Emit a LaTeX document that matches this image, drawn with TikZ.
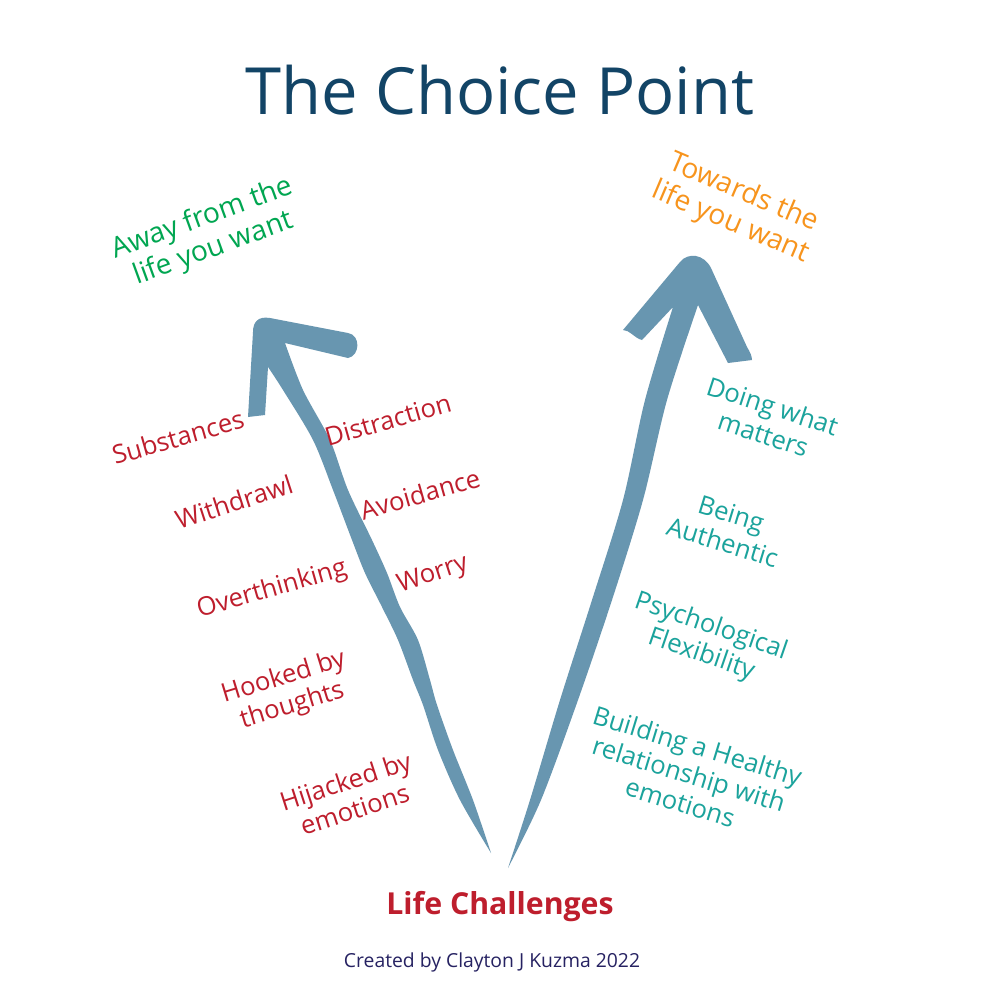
\documentclass[tikz,border=0pt]{standalone}
\usepackage{fontspec}
\setmainfont{Open Sans}
\usetikzlibrary{positioning}

\definecolor{titleblue}{HTML}{124466}
\definecolor{awaygreen}{HTML}{00A651}
\definecolor{towardorange}{HTML}{F7941D}
\definecolor{hookred}{HTML}{BE1E2D}
\definecolor{valueteal}{HTML}{1BA39C}
\definecolor{shaftblue}{HTML}{6896B0}
\definecolor{creditnavy}{HTML}{262262}

\begin{document}
\begin{tikzpicture}[x=0.01cm,y=-0.01cm,font=\fontsize{7.3}{8.4}\selectfont,
  hook/.style={text=hookred,align=center,inner sep=1pt},
  value/.style={text=valueteal,align=center,inner sep=1pt},
  shaft/.style={fill=shaftblue}]
  \fill[white] (0,0) rectangle (1000,1000);
  \useasboundingbox (0,0) rectangle (1000,1000);

  % the two hand drawn arrows
  \fill[shaft] (248,417) -- (265,415) -- (268,367)
    -- plot[smooth] coordinates {(268,367) (283,390) (313,440) (333,490) (352,540) (365,573)
       (382,607) (398,640) (413,680) (423,705) (438,750) (460,800) (491,853)}
    -- plot[smooth] coordinates {(491,853) (473,800) (453,750) (437,705) (430,680) (418,640)
       (400,607) (387,573) (372,540) (348,490) (330,440) (303,390) (285,343)}
    -- (348,358) .. controls (360,356) and (361,335) .. (348,333)
    -- (270,318) .. controls (258,316) and (253,322) .. (253,332) -- cycle;
  \fill[shaft] (508,868)
    -- plot[smooth] coordinates {(508,868) (530,800) (560,700) (592,600) (623,500) (645,400) (673,307)}
    -- (642,340) .. controls (634,338) and (630,330) .. (623,330)
    -- (680,262) .. controls (688,252) and (704,254) .. (711,268)
    -- (747,347) .. controls (750,352) and (752,356) .. (752,360)
    -- (728,363)
    -- (698,305)
    -- plot[smooth] coordinates {(698,305) (667,400) (643,500) (612,600) (578,700) (541,800) (508,868)}
    -- cycle;

  \node[text=titleblue,font=\fontsize{18.5}{22}\selectfont] (title) at (500,90) {The Choice Point};
  \node[text=awaygreen,align=center,rotate=20,font=\fontsize{8}{9.2}\selectfont] (away) at (208,234) {Away from the\\life you want};
  \node[text=towardorange,align=center,rotate=-23,font=\fontsize{8}{9.2}\selectfont] (towards) at (737,208) {Towards the\\life you want};

  % away moves
  \node[hook,rotate=16] (substances) at (178,437) {Substances};
  \node[hook,rotate=16] (distraction) at (388,420) {Distraction};
  \node[hook,rotate=18] (withdrawl) at (234,502) {Withdrawl};
  \node[hook,rotate=16] (avoidance) at (420,494) {Avoidance};
  \node[hook,rotate=16] (overthinking) at (272,590) {Overthinking};
  \node[hook,rotate=18] (worry) at (433,575) {Worry};
  \node[hook,rotate=17] (hooked) at (288,692) {Hooked by\\thoughts};
  \node[hook,rotate=18] (hijacked) at (350,795) {Hijacked by\\emotions};

  % towards moves
  \node[value,rotate=-18] (doing) at (768,420) {Doing what\\matters};
  \node[value,rotate=-17] (being) at (727,528) {Being\\Authentic};
  \node[value,rotate=-19] (flex) at (706,641) {Psychological\\Flexibility};
  \node[value,rotate=-17] (building) at (689,774) {Building a Healthy\\relationship with\\emotions};

  \node[text=hookred,font=\fontsize{8.6}{10}\selectfont\bfseries] (challenges) at (500,907) {Life Challenges};
  \node[text=creditnavy,font=\fontsize{5.5}{7}\selectfont] (credit) at (492,962) {Created by Clayton J Kuzma 2022};
\end{tikzpicture}
\end{document}
